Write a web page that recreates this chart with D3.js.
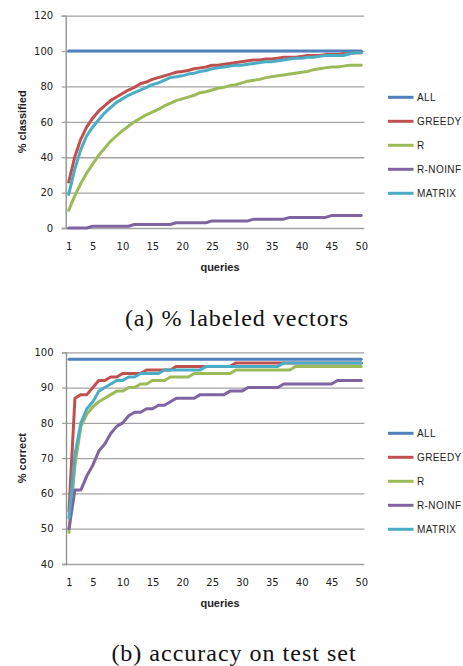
<!DOCTYPE html>
<html><head><meta charset="utf-8">
<script src="https://cdn.jsdelivr.net/npm/d3@7"></script>
<style>body{margin:0;background:#fff}</style>
</head><body><svg id="c" width="463" height="666"></svg>
<script>
const queries = [1,2,3,4,5,6,7,8,9,10,11,12,13,14,15,16,17,18,19,20,21,22,23,24,25,26,27,28,29,30,31,32,33,34,35,36,37,38,39,40,41,42,43,44,45,46,47,48,49,50];
const queryTicks = [1,5,10,15,20,25,30,35,40,45,50];
const seriesNames = ["ALL","GREEDY","R","R-NOINF","MATRIX"];
const seriesColors = ["#4F81BD","#C0504D","#9BBB59","#8064A2","#4BACC6"];

// (a) % labeled vectors
const labeledAll = [100,100,100,100,100,100,100,100,100,100,100,100,100,100,100,100,100,100,100,100,100,100,100,100,100,100,100,100,100,100,100,100,100,100,100,100,100,100,100,100,100,100,100,100,100,100,100,100,100,100];
const labeledGreedy = [26,40,50,57,62,66,69,72,74,76,78,79.5,81.5,82.5,84,85,86,87,88,88.5,89,90,90.5,91,92,92,92.5,93,93.5,94,94.5,95,95,95.5,95.5,96,96.5,96.5,96.5,97,97.5,97.5,97.5,98,98,98,98.5,98.5,99,99];
const labeledR = [10,18,25,31,36,41,45,49,52,55,57.5,60,62,64,65.5,67,69,70.5,72,73,74,75,76.5,77,78,79,79.5,80.5,81,82,83,83.5,84,85,85.5,86,86.5,87,87.5,88,88.5,89.5,90,90.5,91,91,91.5,92,92,92];
const labeledNoinf = [0,0,0,0,1,1,1,1,1,1,1,2,2,2,2,2,2,2,3,3,3,3,3,3,4,4,4,4,4,4,4,5,5,5,5,5,5,6,6,6,6,6,6,6,7,7,7,7,7,7];
const labeledMatrix = [19,33,44,52,57,61,65,68,71,73,75,76.5,78,79.5,81,82,83.5,85,85.5,86,87,87.5,88.5,89,90,90.5,91,91.5,92,92,92.5,93,93.5,94,94,94.5,95,95.5,96,96,96.5,96.5,97,97.5,97.5,97.5,97.5,98.5,99,99];
const labeledTicks = [0,20,40,60,80,100,120];

// (b) accuracy on test set
const accAll = [98,98,98,98,98,98,98,98,98,98,98,98,98,98,98,98,98,98,98,98,98,98,98,98,98,98,98,98,98,98,98,98,98,98,98,98,98,98,98,98,98,98,98,98,98,98,98,98,98,98];
const accGreedy = [55,87,88,88,90,92,92,93,93,94,94,94,94,95,95,95,95,95,96,96,96,96,96,96,96,96,96,96,97,97,97,97,97,97,97,97,97,97,97,97,97,97,97,97,97,97,97,97,97,97];
const accR = [49,68,79,82.5,84.5,86,87,88,89,89,90,90,91,91,92,92,92,93,93,93,93,94,94,94,94,94,94,94,95,95,95,95,95,95,95,95,95,95,96,96,96,96,96,96,96,96,96,96,96,96];
const accNoinf = [50,61,61,65,68,72,74,77,79,80,82,83,83,84,84,85,85,86,87,87,87,87,88,88,88,88,88,89,89,89,90,90,90,90,90,90,91,91,91,91,91,91,91,91,91,92,92,92,92,92];
const accMatrix = [53,71,80,84,86,89,90,91,92,92,93,93,94,94,94,94,95,95,95,95,95,95,95,96,96,96,96,96,96,96,96,96,96,96,96,96,97,97,97,97,97,97,97,97,97,97,97,97,97,97];
const accTicks = [40,50,60,70,80,90,100];

const svg = d3.select("#c");
svg.append("rect").attr("width",463).attr("height",666).attr("fill","#fff");

function drawChart(cfg){
  const g = svg.append("g");
  const x = d3.scalePoint().domain(queries).range([cfg.left, cfg.right]).padding(0.5);
  const y = d3.scaleLinear().domain([cfg.ticks[0], cfg.ticks[cfg.ticks.length-1]]).range([cfg.bottom, cfg.top]);
  const w = cfg.right - cfg.left;
  // gridlines
  g.append("g").attr("transform",`translate(${cfg.left},0)`)
    .call(d3.axisLeft(y).tickValues(cfg.ticks).tickSize(-w).tickFormat(""))
    .call(s=>{s.select(".domain").remove(); s.selectAll("line").attr("stroke","#a3a3a3").attr("stroke-width",1.3);});
  // y axis ticks + labels
  g.append("g").attr("transform",`translate(${cfg.left},0)`)
    .call(d3.axisLeft(y).tickValues(cfg.ticks).tickSize(4).tickPadding(8.5))
    .call(s=>{s.select(".domain").attr("stroke","#8c8c8c").attr("stroke-width",1.3);
      s.selectAll("line").attr("stroke","#a3a3a3").attr("stroke-width",1.3);
      s.selectAll("text").attr("font-family","DejaVu Sans").attr("font-size",10).attr("fill","#222");});
  // x axis labels
  g.append("g").attr("transform",`translate(0,${cfg.bottom})`)
    .call(d3.axisBottom(x).tickValues(queryTicks).tickSize(0).tickPadding(15))
    .call(s=>{s.select(".domain").remove();
      s.selectAll("text").attr("font-family","DejaVu Sans").attr("font-size",10).attr("fill","#222");});
  // axis titles
  g.append("text").attr("x",220).attr("y",cfg.bottom+43).attr("text-anchor","middle")
    .attr("font-family","Liberation Sans").attr("font-weight","bold").attr("font-size",11).attr("fill","#222").text("queries");
  g.append("text").attr("transform",`translate(26,${(cfg.top+cfg.bottom)/2}) rotate(-90)`)
    .attr("text-anchor","middle").attr("font-family","Liberation Sans").attr("font-weight","bold")
    .attr("font-size",11).attr("fill","#222").text(cfg.ytitle);
  // lines
  const line = d3.line().x((d,i)=>x(queries[i])).y(d=>y(d));
  cfg.series.forEach((vals,k)=>{
    g.append("path").datum(vals).attr("d",line).attr("fill","none")
      .attr("stroke",seriesColors[k]).attr("stroke-width",3)
      .attr("stroke-linejoin","round").attr("stroke-linecap","round");
  });
  // legend
  seriesNames.forEach((name,k)=>{
    const ly = cfg.legendTop + k*24;
    g.append("line").attr("x1",388).attr("x2",413.5).attr("y1",ly).attr("y2",ly)
      .attr("stroke",seriesColors[k]).attr("stroke-width",3);
    g.append("text").attr("x",417).attr("y",ly).attr("dy","0.36em")
      .attr("font-family","Liberation Sans").attr("font-size",10).attr("letter-spacing",0.4)
      .attr("fill","#222").text(name);
  });
  // caption
  g.append("text").attr("x",cfg.capX).attr("y",cfg.capY).attr("text-anchor","middle")
    .attr("font-family","Liberation Serif").attr("font-size",24).attr("letter-spacing",1)
    .attr("fill","#111").text(cfg.caption);
}

drawChart({left:65.7,right:364.3,top:15.7,bottom:228,ticks:labeledTicks,
  series:[labeledAll,labeledGreedy,labeledR,labeledNoinf,labeledMatrix],
  ytitle:"% classified",legendTop:97.3,caption:"(a) % labeled vectors",capX:237,capY:326});
drawChart({left:66,right:364.3,top:352.3,bottom:564,ticks:accTicks,
  series:[accAll,accGreedy,accR,accNoinf,accMatrix],
  ytitle:"% correct",legendTop:433.3,caption:"(b) accuracy on test set",capX:234,capY:661});
</script></body></html>
